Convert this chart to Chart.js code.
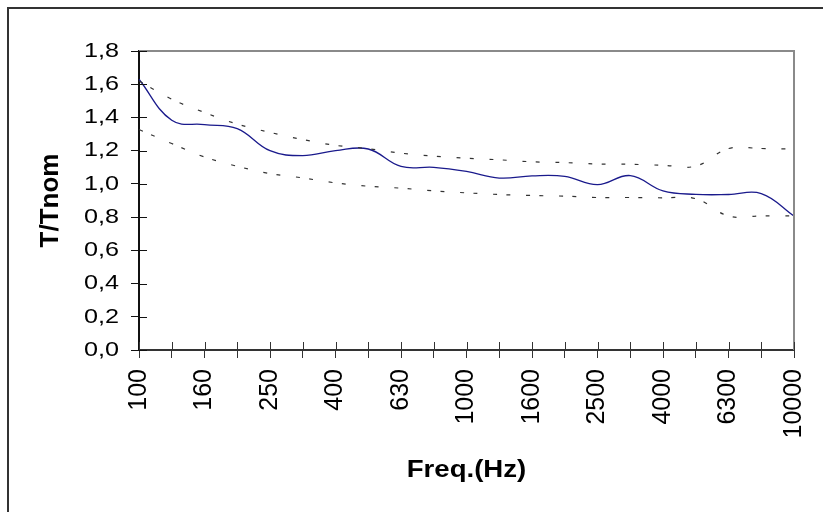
<!DOCTYPE html>
<html>
<head>
<meta charset="utf-8">
<script src="https://cdn.jsdelivr.net/npm/chart.js@4.4.1/dist/chart.umd.min.js"></script>
<style>
  body { margin: 0; background: #fff; }
  #wrap { position: relative; width: 823px; height: 512px; overflow: hidden; }
  #frame {
    position: absolute; left: 7px; top: 7px; width: 840px; height: 540px;
    border-left: 2px solid #333; border-top: 2px solid #333; pointer-events: none;
  }
</style>
</head>
<body>
<div id="wrap">
  <canvas id="chart" width="823" height="512"></canvas>
  <div id="frame"></div>
</div>
<script>
// third-octave bands
const freqs = ['100', '125', '160', '200', '250', '315', '400', '500', '630', '800', '1000',
  '1250', '1600', '2000', '2500', '3150', '4000', '5000', '6300', '8000', '10000'];

const measured = [1.63, 1.383, 1.357, 1.333, 1.20, 1.17, 1.20, 1.21, 1.105, 1.10, 1.075,
  1.035, 1.048, 1.045, 0.995, 1.05, 0.958, 0.937, 0.936, 0.942, 0.807];

const upperLimit = [1.62, 1.51, 1.43, 1.36, 1.31, 1.267, 1.232, 1.212, 1.185, 1.167, 1.155,
  1.145, 1.133, 1.128, 1.12, 1.118, 1.112, 1.107, 1.213, 1.213, 1.21];

const lowerLimit = [1.327, 1.243, 1.162, 1.106, 1.062, 1.036, 1.006, 0.986, 0.974, 0.958, 0.946,
  0.936, 0.93, 0.926, 0.918, 0.918, 0.916, 0.911, 0.807, 0.807, 0.807];

const yTicks = [0, 0.2, 0.4, 0.6, 0.8, 1.0, 1.2, 1.4, 1.6, 1.8];

const fontFamily = '"Liberation Sans", Arial, sans-serif';
const limitDash = [4, 9, 4, 16];
const textStretch = 1.2;

// the original horizontal text is drawn wide, stretch glyphs around their anchor
const wideText = {
  id: 'wideText',
  beforeDraw(chart) {
    const ctx = chart.ctx;
    if (ctx._wide) return;
    const fill = ctx.fillText.bind(ctx);
    ctx.fillText = function (text, x, y, maxWidth) {
      const m = ctx.getTransform();
      if (Math.abs(m.b) > 1e-6) {
        return maxWidth === undefined ? fill(text, x, y) : fill(text, x, y, maxWidth);
      }
      const p = m.transformPoint(new DOMPoint(x, y));
      ctx.save();
      ctx.setTransform(new DOMMatrix()
        .translate(p.x, p.y).scale(textStretch, 1).translate(-p.x, -p.y).multiply(m));
      fill(text, x, y);
      ctx.restore();
    };
    ctx._wide = true;
  }
};

// grey top/right edge of the plot area plus the inner half of the cross ticks
const plotFrame = {
  id: 'plotFrame',
  afterDraw(chart) {
    const { ctx, chartArea: a, scales } = chart;
    ctx.save();
    ctx.strokeStyle = '#8a8a8a';
    ctx.lineWidth = 2;
    ctx.beginPath();
    ctx.moveTo(a.left, a.top);
    ctx.lineTo(a.right, a.top);
    ctx.lineTo(a.right, a.bottom);
    ctx.stroke();

    ctx.lineWidth = 1;
    ctx.strokeStyle = '#111';
    ctx.beginPath();
    scales.y.ticks.forEach((t, i) => {
      const y = Math.round(scales.y.getPixelForTick(i)) + 0.5;
      ctx.moveTo(a.left, y);
      ctx.lineTo(a.left + 8, y);
    });
    ctx.stroke();
    ctx.strokeStyle = '#333';
    ctx.beginPath();
    scales.x.ticks.forEach((t, i) => {
      const x = Math.round(scales.x.getPixelForTick(i)) + 0.5;
      ctx.moveTo(x, a.bottom - 8);
      ctx.lineTo(x, a.bottom);
    });
    ctx.stroke();
    ctx.restore();
  }
};

const limitStyle = {
  borderColor: '#333',
  borderWidth: 1.2,
  borderDash: limitDash,
  pointRadius: 0,
  tension: 0.4,
  fill: false
};

new Chart(document.getElementById('chart'), {
  type: 'line',
  data: {
    labels: freqs,
    datasets: [
      { label: 'upper', data: upperLimit, ...limitStyle },
      { label: 'lower', data: lowerLimit, ...limitStyle },
      {
        label: 'T/Tnom',
        data: measured,
        borderColor: '#1a1a8c',
        borderWidth: 1.3,
        pointRadius: 0,
        tension: 0.4,
        fill: false
      }
    ]
  },
  options: {
    responsive: false,
    animation: false,
    devicePixelRatio: 1,
    layout: { padding: { top: 51, right: 29, left: 0, bottom: 0 } },
    plugins: {
      legend: { display: false },
      tooltip: { enabled: false }
    },
    scales: {
      x: {
        type: 'category',
        offset: false,
        afterFit: scale => {
          scale.height = 162;
          scale.paddingLeft = 0;
          scale.paddingRight = 0;
        },
        grid: { drawOnChartArea: false, tickLength: 8, color: '#333', lineWidth: 1 },
        border: { display: true, color: '#333', width: 2 },
        ticks: {
          autoSkip: false,
          maxRotation: 90,
          minRotation: 90,
          padding: 11,
          color: '#000',
          font: { family: fontFamily, size: 25 },
          callback: function (value, index) {
            return index % 2 === 0 ? this.getLabelForValue(value) : '';
          }
        },
        title: {
          display: true,
          text: 'Freq.(Hz)',
          color: '#000',
          font: { family: fontFamily, size: 23, weight: 'bold' },
          padding: { top: 0, bottom: 28 }
        }
      },
      y: {
        min: 0,
        max: 1.8,
        afterFit: scale => { scale.width = 139; },
        afterBuildTicks: scale => { scale.ticks = yTicks.map(v => ({ value: v })); },
        grid: { drawOnChartArea: false, tickLength: 8, color: '#111', lineWidth: 1 },
        border: { display: true, color: '#111', width: 2 },
        ticks: {
          padding: 12,
          color: '#000',
          font: { family: fontFamily, size: 21 },
          callback: value => value.toFixed(1).replace('.', ',')
        },
        title: {
          display: true,
          text: 'T/Tnom',
          color: '#000',
          font: { family: fontFamily, size: 26, weight: 'bold' },
          padding: { top: 35, bottom: 0 }
        }
      }
    }
  },
  plugins: [wideText, plotFrame]
});
</script>
</body>
</html>
